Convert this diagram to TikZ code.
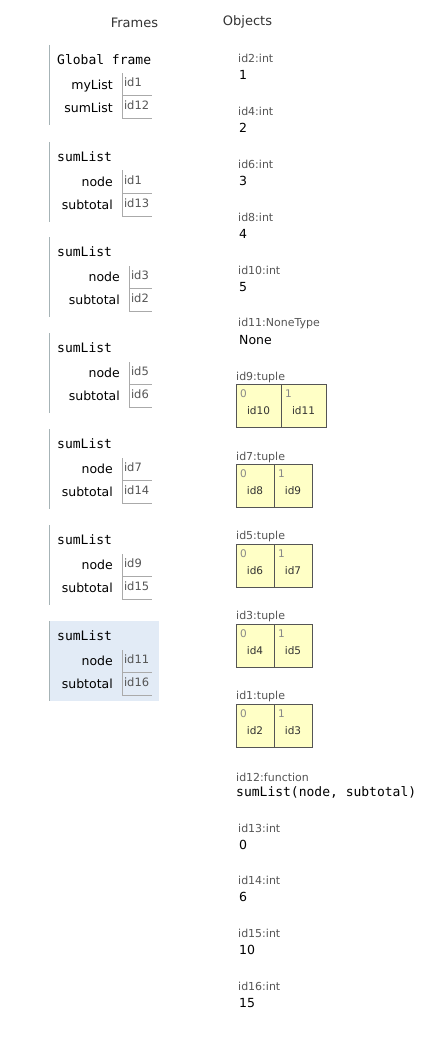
\documentclass[tikz,border=0pt]{standalone}
\usepackage{fontspec}
\setmainfont{DejaVu Sans}
\setmonofont{DejaVu Sans Mono}
\usetikzlibrary{positioning}
\definecolor{hlblue}{HTML}{E2EBF6}
\definecolor{tuplefill}{HTML}{FFFFC6}
\definecolor{framegray}{HTML}{A6B3B6}
\definecolor{cellgray}{HTML}{AAAAAA}
\definecolor{headgray}{HTML}{333333}
\definecolor{typegray}{HTML}{555555}
\definecolor{idxgray}{HTML}{888888}

\begin{document}
\begin{tikzpicture}[x=1pt,y=-1pt,
  frame line/.style={draw=framegray,line width=1pt},
  cell line/.style={draw=cellgray,line width=1pt,line cap=rect},
  head/.style={text=headgray,font=\fontsize{13}{15}\selectfont},
  stackframe/.style={anchor=north west,minimum width=110pt,minimum height=80pt,
    inner sep=0pt,outer sep=0pt,
    append after command={(\tikzlastnode.north west) edge[frame line] (\tikzlastnode.south west)}},
  framename/.style={inner sep=0pt,font=\ttfamily\fontsize{13}{15}\selectfont},
  valbox/.style={anchor=north west,inner xsep=2pt,inner ysep=0pt,outer sep=0pt,
    text height=13pt,text depth=9pt,text width=#1,align=left,text=typegray,
    font=\fontsize{11.5}{13}\selectfont,
    append after command={(\tikzlastnode.north west) edge[cell line] (\tikzlastnode.south west)
      (\tikzlastnode.south west) edge[cell line] (\tikzlastnode.south east)}},
  valbox/.default=25pt,
  varname/.style={inner sep=0pt,text height=9.5pt,text depth=0pt,
    font=\fontsize{12.5}{14}\selectfont},
  typelabel/.style={anchor=west,inner sep=0pt,text=typegray,font=\fontsize{11}{13}\selectfont},
  primval/.style={anchor=west,inner sep=0pt,font=\fontsize{12.5}{14}\selectfont},
  funcsig/.style={anchor=west,inner sep=0pt,font=\ttfamily\fontsize{13}{15}\selectfont},
  tuplecell/.style={anchor=north west,draw=typegray,fill=tuplefill,line width=1pt,
    inner xsep=0pt,inner ysep=0pt,outer sep=0pt,text height=30pt,text depth=13pt,
    minimum width=38pt,text=headgray,font=\fontsize{10.5}{12}\selectfont},
  tupleidx/.style={anchor=north west,xshift=4pt,yshift=-6pt,inner sep=0pt,
    text height=7.5pt,text depth=0pt,text=idxgray,font=\fontsize{10.5}{12}\selectfont}]

  \useasboundingbox (0,0) rectangle (435,1043);

  \node[head] (frames) at (134.5,22.5) {Frames};
  \node[head] (objects) at (247.5,22) {Objects};

  % stack frames
  \node[stackframe] (f1) at (49,45) {};
  \node[framename] (f1name) [below right=9pt and 8pt of f1.north west] {Global frame};
  \node[valbox] (f1val1) [below right=29pt and 73pt of f1.north west] {id1};
  \node[valbox] (f1val2) [below right=52pt and 73pt of f1.north west] {id12};
  \node[varname] (f1var1) [left=9pt of f1val1] {myList};
  \node[varname] (f1var2) [left=9pt of f1val2] {sumList};

  \node[stackframe] (f2) at (49,142) {};
  \node[framename] (f2name) [below right=9pt and 8pt of f2.north west] {sumList};
  \node[valbox] (f2val1) [below right=29pt and 73pt of f2.north west] {id1};
  \node[valbox] (f2val2) [below right=52pt and 73pt of f2.north west] {id13};
  \node[varname] (f2var1) [left=9pt of f2val1] {node};
  \node[varname] (f2var2) [left=9pt of f2val2] {subtotal};

  \node[stackframe] (f3) at (49,237) {};
  \node[framename] (f3name) [below right=9pt and 8pt of f3.north west] {sumList};
  \node[valbox=18pt] (f3val1) [below right=29pt and 80pt of f3.north west] {id3};
  \node[valbox=18pt] (f3val2) [below right=52pt and 80pt of f3.north west] {id2};
  \node[varname] (f3var1) [left=9pt of f3val1] {node};
  \node[varname] (f3var2) [left=9pt of f3val2] {subtotal};

  \node[stackframe] (f4) at (49,333) {};
  \node[framename] (f4name) [below right=9pt and 8pt of f4.north west] {sumList};
  \node[valbox=18pt] (f4val1) [below right=29pt and 80pt of f4.north west] {id5};
  \node[valbox=18pt] (f4val2) [below right=52pt and 80pt of f4.north west] {id6};
  \node[varname] (f4var1) [left=9pt of f4val1] {node};
  \node[varname] (f4var2) [left=9pt of f4val2] {subtotal};

  \node[stackframe] (f5) at (49,429) {};
  \node[framename] (f5name) [below right=9pt and 8pt of f5.north west] {sumList};
  \node[valbox] (f5val1) [below right=29pt and 73pt of f5.north west] {id7};
  \node[valbox] (f5val2) [below right=52pt and 73pt of f5.north west] {id14};
  \node[varname] (f5var1) [left=9pt of f5val1] {node};
  \node[varname] (f5var2) [left=9pt of f5val2] {subtotal};

  \node[stackframe] (f6) at (49,525) {};
  \node[framename] (f6name) [below right=9pt and 8pt of f6.north west] {sumList};
  \node[valbox] (f6val1) [below right=29pt and 73pt of f6.north west] {id9};
  \node[valbox] (f6val2) [below right=52pt and 73pt of f6.north west] {id15};
  \node[varname] (f6var1) [left=9pt of f6val1] {node};
  \node[varname] (f6var2) [left=9pt of f6val2] {subtotal};

  \node[stackframe,fill=hlblue] (f7) at (49,621) {};
  \node[framename] (f7name) [below right=9pt and 8pt of f7.north west] {sumList};
  \node[valbox] (f7val1) [below right=29pt and 73pt of f7.north west] {id11};
  \node[valbox] (f7val2) [below right=52pt and 73pt of f7.north west] {id16};
  \node[varname] (f7var1) [left=9pt of f7val1] {node};
  \node[varname] (f7var2) [left=9pt of f7val2] {subtotal};

  % heap objects
  \node[typelabel] (id2) at (238,58) {id2:int};
  \node[primval] (id2v) at (239,75) {1};
  \node[typelabel] (id4) at (238,111) {id4:int};
  \node[primval] (id4v) at (239,128) {2};
  \node[typelabel] (id6) at (238,164) {id6:int};
  \node[primval] (id6v) at (239,181) {3};
  \node[typelabel] (id8) at (238,217) {id8:int};
  \node[primval] (id8v) at (239,234) {4};
  \node[typelabel] (id10) at (238,270) {id10:int};
  \node[primval] (id10v) at (239,287) {5};
  \node[typelabel] (id11) at (238,323) {id11:NoneType};
  \node[primval] (id11v) at (239,340) {None};

  \node[typelabel] (id9) at (236,377) {id9:tuple};
  \node[tuplecell,minimum width=45pt,label={[tupleidx]north west:0}] (id9a) at (236,384) {id10};
  \node[tuplecell,minimum width=45pt,label={[tupleidx]north west:1}] (id9b) [right=0pt of id9a] {id11};

  \node[typelabel] (id7) at (236,457) {id7:tuple};
  \node[tuplecell,label={[tupleidx]north west:0}] (id7a) at (236,464) {id8};
  \node[tuplecell,label={[tupleidx]north west:1}] (id7b) [right=0pt of id7a] {id9};

  \node[typelabel] (id5) at (236,536) {id5:tuple};
  \node[tuplecell,label={[tupleidx]north west:0}] (id5a) at (236,544) {id6};
  \node[tuplecell,label={[tupleidx]north west:1}] (id5b) [right=0pt of id5a] {id7};

  \node[typelabel] (id3) at (236,616) {id3:tuple};
  \node[tuplecell,label={[tupleidx]north west:0}] (id3a) at (236,624) {id4};
  \node[tuplecell,label={[tupleidx]north west:1}] (id3b) [right=0pt of id3a] {id5};

  \node[typelabel] (id1) at (236,696) {id1:tuple};
  \node[tuplecell,label={[tupleidx]north west:0}] (id1a) at (236,704) {id2};
  \node[tuplecell,label={[tupleidx]north west:1}] (id1b) [right=0pt of id1a] {id3};

  \node[typelabel] (id12) at (236,777) {id12:function};
  \node[funcsig] (id12v) at (236,792) {sumList(node, subtotal)};

  \node[typelabel] (id13) at (238,828) {id13:int};
  \node[primval] (id13v) at (239,845) {0};
  \node[typelabel] (id14) at (238,880) {id14:int};
  \node[primval] (id14v) at (239,897) {6};
  \node[typelabel] (id15) at (238,933) {id15:int};
  \node[primval] (id15v) at (239,950) {10};
  \node[typelabel] (id16) at (238,986) {id16:int};
  \node[primval] (id16v) at (239,1003) {15};

\end{tikzpicture}
\end{document}
